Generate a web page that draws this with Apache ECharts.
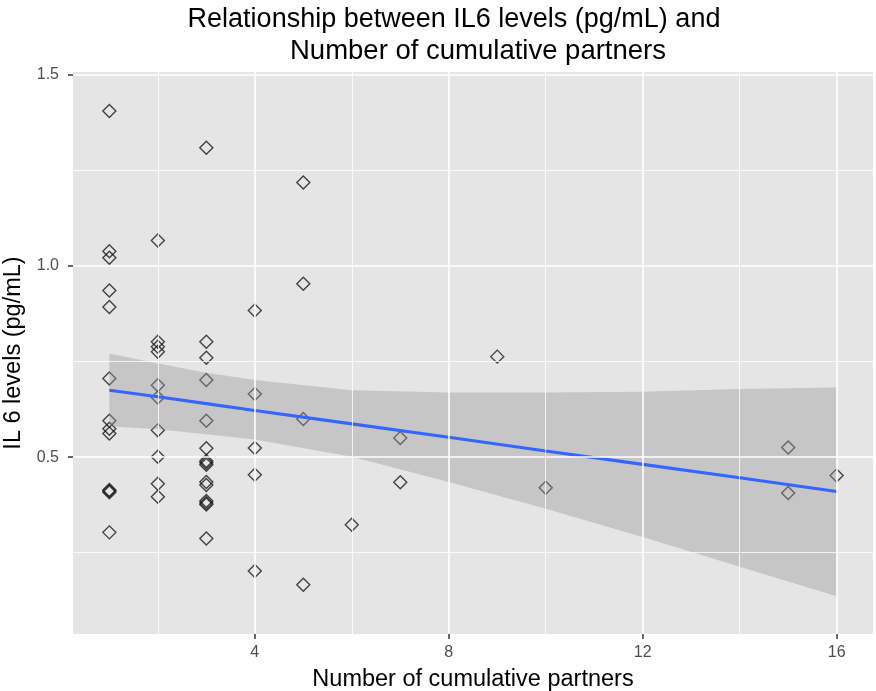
<!DOCTYPE html>
<html>
<head>
<meta charset="utf-8">
<script src="https://cdn.jsdelivr.net/npm/echarts@6/dist/echarts.min.js"></script>
<style>
html,body{margin:0;padding:0;background:#fff;}
#chart{width:876px;height:691px;}
</style>
</head>
<body>
<div id="chart"></div>
<script>
// Scatter points: number of cumulative partners (x) vs IL6 level (y)
const partnersX = [
  1,1,1,1,1,1,1,1,1,1,1,1,1,
  2,2,2,2,2,2,2,2,2,2,
  3,3,3,3,3,3,3,3,3,3,3,3,3,3,3,
  4,4,4,4,4,
  5,5,5,5,
  6,
  7,7,
  9,
  10,
  15,15,
  16
];
const il6Y = [
  1.406,1.039,1.022,0.936,0.893,0.706,0.595,0.574,0.562,0.414,0.411,0.408,0.303,
  1.067,0.802,0.789,0.776,0.688,0.656,0.570,0.501,0.430,0.396,
  1.310,0.802,0.760,0.702,0.595,0.523,0.490,0.485,0.480,0.435,0.427,0.385,0.380,0.376,0.287,
  0.884,0.665,0.524,0.454,0.202,
  1.219,0.954,0.600,0.166,
  0.323,
  0.550,0.434,
  0.763,
  0.420,
  0.525,0.406,
  0.452
];
// Linear fit with 95% confidence band
const fitX    = [1, 2, 3, 4, 6, 8, 10, 12, 14, 16];
const fitY    = [0.675, 0.658, 0.640, 0.622, 0.587, 0.552, 0.516, 0.481, 0.446, 0.410];
const bandLow = [0.581, 0.573, 0.560, 0.546, 0.501, 0.435, 0.365, 0.291, 0.213, 0.136];
const bandHigh= [0.771, 0.745, 0.721, 0.702, 0.675, 0.669, 0.669, 0.671, 0.678, 0.682];
// Axis ticks and grid lines
const xTicks = [4, 8, 12, 16];
const xMinor = [2, 6, 10, 14];
const yTicks = [0.5, 1.0, 1.5];
const yMinor = [0.25, 0.75, 1.25];

const FONT = "'Liberation Sans', Arial, Helvetica, sans-serif";
const chart = echarts.init(document.getElementById('chart'), null, {renderer: 'canvas'});

const gridLines = [];
xTicks.forEach(v => gridLines.push({xAxis: v, lineStyle: {width: 1.6}}));
xMinor.forEach(v => gridLines.push({xAxis: v, lineStyle: {width: 0.8}}));
yTicks.forEach(v => gridLines.push({yAxis: v, lineStyle: {width: 1.6}}));
yMinor.forEach(v => gridLines.push({yAxis: v, lineStyle: {width: 0.8}}));

const option = {
  animation: false,
  backgroundColor: '#ffffff',
  title: [
    {text: 'Relationship between IL6 levels (pg/mL) and', left: 449, top: 1, textAlign: 'center',
     textStyle: {fontFamily: FONT, fontSize: 27, fontWeight: 'normal', color: '#000'}},
    {text: 'Number of cumulative partners', left: 473, top: 32, textAlign: 'center',
     textStyle: {fontFamily: FONT, fontSize: 27.5, fontWeight: 'normal', color: '#000'}}
  ],
  grid: {left: 73, right: 3, top: 72, bottom: 57, show: true, backgroundColor: '#E5E5E5',
         borderWidth: 0, outerBoundsMode: 'none', containLabel: false},
  xAxis: {
    type: 'value', min: 0.25, max: 16.75,
    name: 'Number of cumulative partners', nameLocation: 'middle', nameGap: 34,
    nameTextStyle: {fontFamily: FONT, fontSize: 23.5, color: '#000'},
    axisLine: {show: false},
    axisTick: {show: true, length: 5, lineStyle: {color: '#333', width: 1.5}, customValues: xTicks},
    axisLabel: {fontFamily: FONT, fontSize: 16, color: '#4D4D4D', margin: 11, customValues: xTicks},
    splitLine: {show: false}
  },
  yAxis: {
    type: 'value', min: 0.037, max: 1.508,
    name: 'IL 6 levels (pg/mL)', nameLocation: 'middle', nameGap: 45, nameRotate: 90,
    nameTextStyle: {fontFamily: FONT, fontSize: 23.5, color: '#000'},
    axisLine: {show: false},
    axisTick: {show: true, length: 5, lineStyle: {color: '#333', width: 1.5}, customValues: yTicks},
    axisLabel: {fontFamily: FONT, fontSize: 16, color: '#4D4D4D', margin: 14, customValues: yTicks,
                formatter: v => v.toFixed(1)},
    splitLine: {show: false}
  },
  series: [
    {
      type: 'line', data: [], z: 0, silent: true,
      markLine: {silent: true, symbol: 'none', label: {show: false},
                 lineStyle: {color: '#ffffff', type: 'solid'}, data: gridLines, animation: false}
    },
    {
      type: 'scatter', z: 2, silent: true,
      data: partnersX.map((x, i) => [x, il6Y[i]]),
      symbol: 'diamond', symbolSize: [13, 13],
      itemStyle: {color: 'rgba(0,0,0,0)', borderColor: '#1a1a1a', borderWidth: 1.4}
    },
    {
      type: 'custom', z: 3, silent: true,
      data: [0],
      renderItem: function (params, api) {
        const pts = [];
        for (let i = 0; i < fitX.length; i++) pts.push(api.coord([fitX[i], bandHigh[i]]));
        for (let i = fitX.length - 1; i >= 0; i--) pts.push(api.coord([fitX[i], bandLow[i]]));
        return {type: 'polygon', shape: {points: pts, smooth: 0}, style: {fill: 'rgba(153,153,153,0.4)'}};
      }
    },
    {
      type: 'line', z: 4, silent: true, symbol: 'none',
      data: fitX.map((x, i) => [x, fitY[i]]),
      lineStyle: {color: '#3366FF', width: 3.2}
    }
  ]
};
chart.setOption(option);
</script>
</body>
</html>
